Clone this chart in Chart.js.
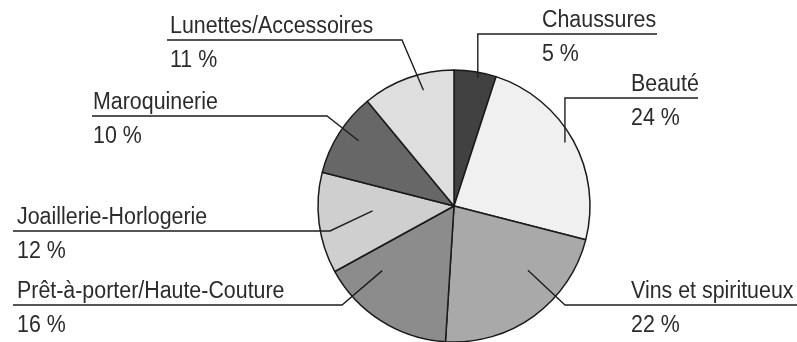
<!DOCTYPE html>
<html>
<head>
<meta charset="utf-8">
<script src="https://cdn.jsdelivr.net/npm/chart.js@4.4.0/dist/chart.umd.min.js"></script>
<style>
  html, body { margin: 0; padding: 0; background: #ffffff; }
  #wrap { position: relative; width: 797px; height: 342px; }
</style>
</head>
<body>
<div id="wrap"><canvas id="chart"></canvas></div>
<script>
// data
const categories = ["Chaussures", "Beauté", "Vins et spiritueux", "Prêt-à-porter/Haute-Couture",
                    "Joaillerie-Horlogerie", "Maroquinerie", "Lunettes/Accessoires"];
const shares = [5, 24, 22, 16, 12, 10, 11];
const sliceColors = ["#414141", "#f0f0f0", "#a9a9a9", "#8c8c8c", "#cfcfcf", "#676767", "#dedede"];

// label placement (leader line + text), one per slice
const labelLayout = [
    { vertical: true, lineY: 34, lineEnd: 657, textX: 542, angleOffset: 1.5, radiusFrac: 0.96 },
    { vertical: true, lineY: 98, lineEnd: 698, textX: 631, angleOffset: -1, radiusFrac: 0.94 },
    { elbowX: 565, lineY: 305, lineEnd: 797, textX: 631, angleOffset: -13, radiusFrac: 0.72 },
    { elbowX: 342, lineY: 305, lineEnd: 13, textX: 17, angleOffset: 15.6, radiusFrac: 0.71 },
    { elbowX: 330, lineY: 231, lineEnd: 13, textX: 17, angleOffset: 3.7, radiusFrac: 0.6 },
    { elbowX: 327, lineY: 116, lineEnd: 92, textX: 93, angleOffset: 2, radiusFrac: 0.85 },
    { elbowX: 402, lineY: 40, lineEnd: 167, textX: 170, angleOffset: 5, radiusFrac: 0.88 }
];

// condensed look: regular sans squeezed a little horizontally
const TEXT_FONT = '23px "Liberation Sans", Arial, sans-serif';
const TEXT_SCALE_X = 0.93;

function drawText(ctx, text, x, y) {
    ctx.save();
    ctx.translate(x, y);
    ctx.scale(TEXT_SCALE_X, 1);
    ctx.fillText(text, 0, 0);
    ctx.restore();
}

const leaderLabels = {
    id: 'leaderLabels',
    afterDatasetsDraw(chart) {
        const ctx = chart.ctx;
        const arcs = chart.getDatasetMeta(0).data;
        ctx.save();
        ctx.strokeStyle = '#1e1e1e';
        ctx.lineWidth = 1.4;
        ctx.fillStyle = '#2b2b2b';
        ctx.font = TEXT_FONT;
        ctx.textBaseline = 'alphabetic';
        ctx.textAlign = 'left';
        arcs.forEach((arc, i) => {
            const p = arc.getProps(['x', 'y', 'startAngle', 'endAngle', 'outerRadius'], true);
            const lay = labelLayout[i];
            const a = (p.startAngle + p.endAngle) / 2 + lay.angleOffset * Math.PI / 180;
            const ax = p.x + Math.cos(a) * p.outerRadius * lay.radiusFrac;
            const ay = p.y + Math.sin(a) * p.outerRadius * lay.radiusFrac;
            const ex = lay.vertical ? ax : lay.elbowX;

            ctx.beginPath();
            ctx.moveTo(ax, ay);
            ctx.lineTo(ex, lay.lineY);
            ctx.lineTo(lay.lineEnd, lay.lineY);
            ctx.stroke();

            drawText(ctx, categories[i], lay.textX, lay.lineY - 7);
            drawText(ctx, shares[i] + ' %', lay.textX, lay.lineY + 27);
        });
        ctx.restore();
    }
};

new Chart(document.getElementById('chart'), {
    type: 'pie',
    data: {
        labels: categories,
        datasets: [{
            data: shares,
            backgroundColor: sliceColors,
            borderColor: '#1a1a1a',
            borderWidth: 1.5,
            radius: 136,
            hoverOffset: 0
        }]
    },
    options: {
        responsive: true,
        maintainAspectRatio: false,
        animation: false,
        layout: {
            padding: { left: 318, right: 207, top: 70, bottom: 0 }
        },
        plugins: {
            legend: { display: false },
            tooltip: { enabled: false }
        }
    },
    plugins: [leaderLabels]
});
</script>
</body>
</html>
